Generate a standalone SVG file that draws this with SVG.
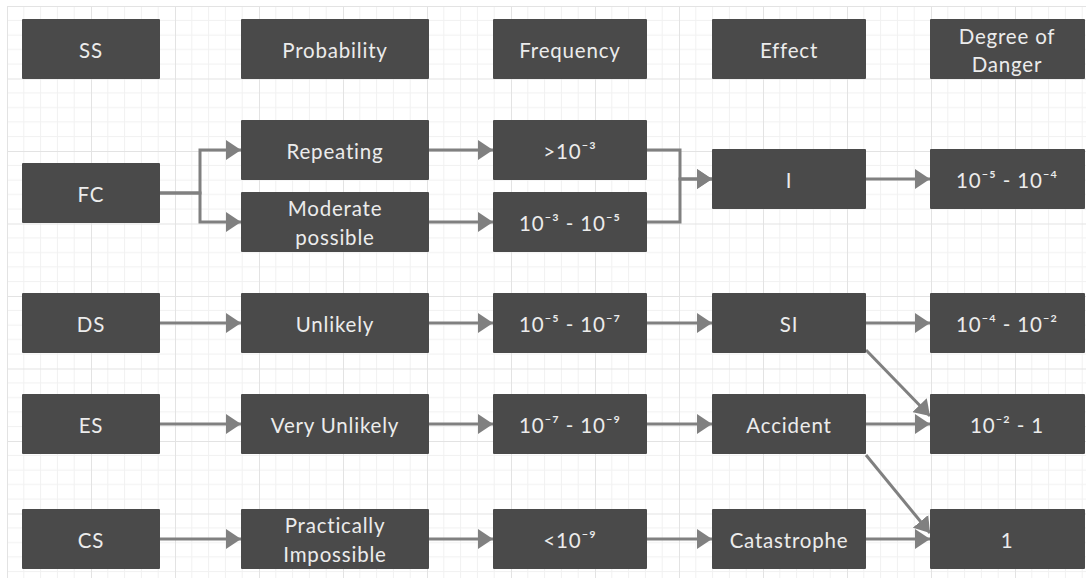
<svg xmlns="http://www.w3.org/2000/svg" width="1086" height="578" viewBox="0 0 1086 578">
<style>
.box{fill:#4a4a4a;}
.t{font-family:Lato,"Noto Sans",sans-serif;font-size:20.5px;letter-spacing:0.8px;fill:#ececec;text-anchor:middle;dominant-baseline:central;}
.c{fill:none;stroke:#808080;stroke-width:3;marker-end:url(#ah);}
</style>
<defs>
<marker id="ah" viewBox="0 0 15 20" refX="15" refY="10" markerWidth="15" markerHeight="20" markerUnits="userSpaceOnUse" orient="auto">
<path d="M0,0 L15,10 L0,20 z" fill="#808080"/>
</marker>
<pattern id="grid" x="7" y="6" width="84" height="72.5" patternUnits="userSpaceOnUse">
<path d="M16.8,0V72.5M33.6,0V72.5M50.4,0V72.5M67.2,0V72.5M0,14.5H84M0,29H84M0,43.5H84M0,58H84" stroke="#f1f1f1" stroke-width="1" fill="none"/>
<path d="M0.5,0V72.5M0,0.5H84" stroke="#e3e3e3" stroke-width="1" fill="none"/>
</pattern>
</defs>
<rect width="1086" height="578" fill="#ffffff"/>
<rect x="7" y="6" width="1079" height="572" fill="url(#grid)"/>

<g id="connectors">
<path class="c" d="M160,193 H200 V150 H241"/>
<path class="c" d="M160,193 H200 V222 H241"/>
<path class="c" d="M429,150 H493"/>
<path class="c" d="M429,222 H493"/>
<path class="c" d="M647,150 H680 V179 H712"/>
<path class="c" d="M647,222 H680 V179 H712"/>
<path class="c" d="M866,179 H930"/>
<path class="c" d="M160,323 H241"/>
<path class="c" d="M429,323 H493"/>
<path class="c" d="M647,323 H712"/>
<path class="c" d="M866,323 H930"/>
<path class="c" d="M160,424 H241"/>
<path class="c" d="M429,424 H493"/>
<path class="c" d="M647,424 H712"/>
<path class="c" d="M866,424 H930"/>
<path class="c" d="M160,539 H241"/>
<path class="c" d="M429,539 H493"/>
<path class="c" d="M647,539 H712"/>
<path class="c" d="M866,539 H930"/>
<path class="c" d="M866,350 L930,416"/>
<path class="c" d="M866,455 L930,533"/>
</g>

<g id="h-ss"><rect class="box" x="22" y="19" width="138" height="60" rx="1"/><text class="t" x="91" y="50">SS</text></g>
<g id="h-prob"><rect class="box" x="241" y="19" width="188" height="60" rx="1"/><text class="t" x="335" y="50">Probability</text></g>
<g id="h-freq"><rect class="box" x="493" y="19" width="154" height="60" rx="1"/><text class="t" x="570" y="50">Frequency</text></g>
<g id="h-eff"><rect class="box" x="712" y="19" width="154" height="60" rx="1"/><text class="t" x="789" y="50">Effect</text></g>
<g id="h-deg"><rect class="box" x="930" y="19" width="155" height="60" rx="1"/><text class="t" x="1007" y="36">Degree of</text><text class="t" x="1007" y="64">Danger</text></g>

<g id="fc"><rect class="box" x="22" y="163" width="138" height="60" rx="1"/><text class="t" x="91" y="194">FC</text></g>
<g id="repeating"><rect class="box" x="241" y="120" width="188" height="60" rx="1"/><text class="t" x="335" y="151">Repeating</text></g>
<g id="moderate"><rect class="box" x="241" y="192" width="188" height="60" rx="1"/><text class="t" x="335" y="208">Moderate</text><text class="t" x="335" y="237">possible</text></g>
<g id="f1"><rect class="box" x="493" y="120" width="154" height="60" rx="1"/><text class="t" x="570" y="151">&gt;10⁻³</text></g>
<g id="f2"><rect class="box" x="493" y="192" width="154" height="60" rx="1"/><text class="t" x="570" y="223">10⁻³ - 10⁻⁵</text></g>
<g id="e-i"><rect class="box" x="712" y="149" width="154" height="60" rx="1"/><text class="t" x="789" y="180">I</text></g>
<g id="d1"><rect class="box" x="930" y="149" width="155" height="60" rx="1"/><text class="t" x="1007" y="180">10⁻⁵ - 10⁻⁴</text></g>

<g id="ds"><rect class="box" x="22" y="293" width="138" height="60" rx="1"/><text class="t" x="91" y="324">DS</text></g>
<g id="unlikely"><rect class="box" x="241" y="293" width="188" height="60" rx="1"/><text class="t" x="335" y="324">Unlikely</text></g>
<g id="f3"><rect class="box" x="493" y="293" width="154" height="60" rx="1"/><text class="t" x="570" y="324">10⁻⁵ - 10⁻⁷</text></g>
<g id="e-si"><rect class="box" x="712" y="293" width="154" height="60" rx="1"/><text class="t" x="789" y="324">SI</text></g>
<g id="d2"><rect class="box" x="930" y="293" width="155" height="60" rx="1"/><text class="t" x="1007" y="324">10⁻⁴ - 10⁻²</text></g>

<g id="es"><rect class="box" x="22" y="394" width="138" height="60" rx="1"/><text class="t" x="91" y="425">ES</text></g>
<g id="veryunlikely"><rect class="box" x="241" y="394" width="188" height="60" rx="1"/><text class="t" x="335" y="425">Very Unlikely</text></g>
<g id="f4"><rect class="box" x="493" y="394" width="154" height="60" rx="1"/><text class="t" x="570" y="425">10⁻⁷ - 10⁻⁹</text></g>
<g id="e-acc"><rect class="box" x="712" y="394" width="154" height="60" rx="1"/><text class="t" x="789" y="425">Accident</text></g>
<g id="d3"><rect class="box" x="930" y="394" width="155" height="60" rx="1"/><text class="t" x="1007" y="425">10⁻² - 1</text></g>

<g id="cs"><rect class="box" x="22" y="509" width="138" height="60" rx="1"/><text class="t" x="91" y="540">CS</text></g>
<g id="practically"><rect class="box" x="241" y="509" width="188" height="60" rx="1"/><text class="t" x="335" y="525">Practically</text><text class="t" x="335" y="554">Impossible</text></g>
<g id="f5"><rect class="box" x="493" y="509" width="154" height="60" rx="1"/><text class="t" x="570" y="540">&lt;10⁻⁹</text></g>
<g id="e-cat"><rect class="box" x="712" y="509" width="154" height="60" rx="1"/><text class="t" x="789" y="540">Catastrophe</text></g>
<g id="d4"><rect class="box" x="930" y="509" width="155" height="60" rx="1"/><text class="t" x="1007" y="540">1</text></g>
</svg>
